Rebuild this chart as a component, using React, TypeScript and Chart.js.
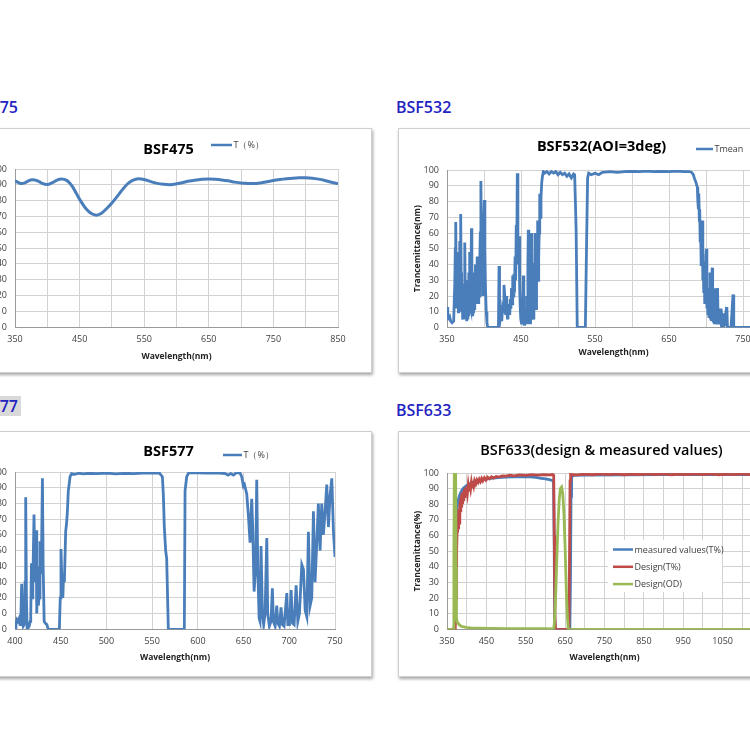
import React, { useEffect, useRef } from 'react';
import { Chart, registerables } from 'chart.js';

Chart.register(...registerables);

const FONT = "'Open Sans', 'DejaVu Sans', sans-serif";
const BLUE = '#4a7ebb';
const RED = '#be4b48';
const GREEN = '#98b954';

// ---------- BSF475 ----------
const bsf475Wl = [350, 355, 360, 365, 370, 377, 385, 392, 400, 408, 415, 422, 430, 438, 445, 452, 460, 468, 476, 484, 492, 500, 508, 516, 524, 532, 541, 550, 560, 570, 580, 590, 600, 610, 620, 630, 640, 650, 660, 670, 680, 690, 700, 710, 720, 730, 740, 750, 760, 770, 780, 790, 800, 810, 820, 830, 840, 850];
const bsf475T = [92.5, 91.5, 90.8, 91.2, 92.4, 93.2, 92.5, 90.9, 90.2, 91.4, 93.0, 93.7, 92.8, 89.5, 84.5, 79.5, 74.8, 71.8, 70.8, 72.0, 75.0, 78.5, 82.5, 86.8, 90.5, 92.8, 93.9, 93.4, 92.0, 90.9, 90.3, 90.1, 90.6, 91.5, 92.4, 93.0, 93.5, 93.7, 93.5, 93.1, 92.5, 91.7, 91.1, 90.9, 90.8, 91.2, 91.9, 92.7, 93.3, 93.8, 94.2, 94.4, 94.4, 94.2, 93.6, 92.7, 91.6, 90.6];

// ---------- BSF532 ----------
const bsf532Wl = [
  350, 351, 352, 353.5, 355, 357, 359,
  360.5, 361.2, 361.8, 362.4, 363, 363.6, 364.2, 364.8, 365.4, 366, 366.6, 367.2, 367.8, 368.5, 369.1, 369.7, 370.3, 370.9, 371.5, 372.1, 372.7, 373.3, 374, 374.6, 375.2, 375.8, 376.4, 377, 377.6, 378.2, 378.8, 379.4, 380, 380.6, 381.2, 381.8, 382.4, 383, 383.6, 384.2, 384.8, 385.4, 386, 386.6, 387.2, 387.8, 388.4, 389, 389.6, 390.2, 390.8, 391.4, 392, 392.6, 393.2, 393.8, 394.4, 395, 395.8, 396.5, 397.2, 397.8, 398.4, 399, 399.8, 400.5, 401.2, 402, 403, 404, 405,
  419.5, 420.3, 421, 422, 423, 424, 425, 426, 427, 428.4, 429.2, 430, 430.8, 431.6, 432.4, 433.2, 434, 434.8, 435.6, 436.4, 437.2, 438, 438.8, 439.6, 440.4, 441.2, 442, 442.8, 443.6, 444.3, 445, 445.8, 446.6, 447.4, 448.2, 449, 449.6,
  450.2, 450.8, 451.4, 452, 452.6, 453.2, 453.8, 454.4, 455, 455.6, 456.2, 456.8, 457.4, 458, 458.6, 459.3, 459.9, 460.5, 461.1, 461.7, 462.3, 462.9, 463.6, 464.3, 465, 465.6, 466.2, 466.8, 467.4, 468.1, 468.9, 469.6, 470.3, 471, 471.7, 472.5, 473.2, 473.9, 474.6, 475.3, 476, 477, 478, 479, 480.2,
  482, 485, 488, 491, 494, 497, 500, 503, 506, 509, 512, 515, 518, 521, 522.5, 523.5, 524.5, 526, 537, 538.5, 540, 541.5, 545, 550, 555, 560, 570, 580, 590, 600, 610, 620, 630, 640, 650, 660, 670, 678,
  680.6, 682.9, 684.2, 686.5, 688.3, 689, 689.6, 690.3, 691, 691.5, 692.1, 692.8, 693.5, 694.2, 695, 695.7, 696.4, 697, 697.7, 698.3, 699, 699.8, 700.5, 701.2, 701.9, 702.6, 703.3, 704, 704.7, 705.4, 706.1, 706.8, 707.6, 708.3, 709, 709.7, 710.4, 711.2, 712, 712.7, 713.4, 714.1, 714.8, 715.6, 716.3, 717, 717.8, 718.5, 719.3, 720.1, 720.9, 722, 723, 724, 725, 726, 727, 728.2, 729, 731, 733.8, 736.5, 737.5, 740, 760, 780, 800,
];
const bsf532T = [
  13, 8, 6, 7, 4, 3, 4,
  28, 50, 67, 30, 12, 40, 18, 48, 10, 30, 15, 55, 30, 72, 35, 10, 25, 5, 20, 6, 28, 12, 54, 25, 6, 18, 4, 22, 6, 30, 8, 35, 10, 48, 14, 40, 12, 63, 20, 8, 30, 10, 35, 12, 28, 14, 40, 15, 32, 18, 45, 16, 30, 15, 35, 20, 45, 60, 93, 50, 30, 45, 20, 55, 70, 81, 50, 25, 10, 3, 0,
  0, 39, 12, 5, 8, 4, 12, 10, 27, 18, 8, 20, 12, 6, 15, 9, 14, 8, 18, 12, 25, 15, 33, 20, 34, 22, 45, 30, 65, 48, 98, 55, 40, 58, 25, 12, 6,
  4, 2, 8, 3, 15, 33, 6, 2, 8, 3, 12, 4, 20, 5, 3, 40, 62, 15, 4, 10, 3, 25, 45, 60, 18, 5, 12, 6, 22, 40, 60, 25, 12, 35, 50, 68, 30, 45, 60, 85, 70, 82, 92, 96, 99,
  98, 99, 97.5, 99, 98, 99, 97, 98.5, 97, 98, 96, 97.5, 95, 97.5, 97, 80, 62, 0, 0, 50, 95, 98, 97, 98, 97, 98.5, 99, 98.5, 99, 99.2, 99, 99.3, 99, 99.2, 99, 99.3, 99, 99,
  98.5, 97, 95, 92, 89, 80, 76, 85, 68, 75, 55, 60, 40, 45, 68, 30, 35, 22, 42, 15, 20, 45, 50, 12, 18, 8, 25, 6, 15, 35, 6, 5, 20, 38, 10, 4, 12, 3, 25, 8, 3, 10, 2, 25, 6, 2, 8, 2, 12, 3, 1, 5, 1, 9, 2, 6, 1, 13, 0, 0, 0, 21, 0, 0, 0, 0, 0,
];

// ---------- BSF577 ----------
const bsf577Wl = [400, 401, 402, 403, 404.5, 405.5, 406.5, 407.3, 408.2, 409, 410, 411, 411.7, 412.5, 413.2, 414.5, 415.5, 416.5, 417.2, 418, 418.8, 419.5, 420.8, 421.9, 423, 423.8, 424.7, 425.5, 426.3, 427.3, 428.2, 429, 430, 430.8, 431.9, 433, 434.8, 436.4, 448.5, 449.5, 450.3, 451.3, 452.3, 453.2, 454, 455.4, 456.5, 457.3, 458.3, 459.2, 460.2, 462, 465, 470, 475, 480, 490, 500, 510, 520, 530, 540, 550, 558, 561.2, 562.3, 563.3, 564.8, 565.9, 567.7, 585.2, 586, 587.8, 590, 600, 610, 620, 630, 633, 636, 639, 642, 646, 648, 649.8, 651, 653.5, 655.3, 657.1, 658.9, 660, 661.5, 663.3, 664.4, 665.5, 667, 668, 669.1, 670.6, 672, 673.5, 675.4, 676.4, 678.2, 680, 681.5, 682.6, 684.5, 686.3, 687.4, 689.2, 691, 692.5, 694.3, 697.3, 698.4, 700.2, 702, 703.5, 705.3, 707.5, 709.3, 711.1, 713.7, 715.5, 717.4, 719.2, 720.9, 722.8, 724.6, 726.4, 728.2, 730.1, 731.8, 733.7, 735.5, 737.3, 739.2, 741, 742.8, 744.6, 746.5, 748.3, 750];
const bsf577T = [1, 4, 6, 5, 7, 3, 10, 29, 5, 2, 3, 30, 84, 20, 1, 1, 2, 5, 8, 42, 20, 30, 73, 30, 63, 10, 40, 15, 20, 56, 35, 48, 96, 40, 5, 4, 3, 0, 0, 20, 51, 30, 20, 35, 30, 62, 68, 75, 88, 92, 97, 99, 98.5, 99.2, 98.8, 99.2, 99, 99.3, 98.8, 99.2, 99, 99.3, 99.5, 99.3, 97, 85, 65, 50, 45, 0, 0, 88, 97, 99.5, 99.5, 99.3, 99.5, 99, 98, 99, 98, 99.5, 99.5, 97, 91, 92, 86, 72, 55, 83, 65, 24, 40, 95, 40, 7, 5, 53, 10, 3, 10, 58, 10, 2, 5, 26, 5, 2, 15, 4, 2, 14, 3, 2, 23, 3, 3, 25, 4, 3, 28, 5, 10, 41, 38, 12, 8, 62, 15, 20, 75, 30, 55, 80, 50, 80, 60, 75, 92, 65, 85, 96, 62, 46];

// ---------- BSF633 ----------
const bsf633MeasWl = [350, 367, 369, 370.5, 372, 373.5, 375, 377, 379, 381, 384, 388, 392, 397, 403, 410, 420, 432, 445, 460, 480, 500, 520, 540, 560, 575, 590, 600, 610, 617, 620.5, 622, 623.5, 625, 662, 663.5, 665, 666.5, 670, 700, 800, 900, 1000, 1150];
const bsf633MeasT = [0, 0, 3, 25, 55, 70, 77, 81, 83, 85, 87, 89, 90.5, 91.5, 92.5, 93.5, 94.5, 95.3, 96, 96.6, 97, 97.4, 97.6, 97.7, 97.6, 97.2, 96.6, 96.2, 95.7, 95.2, 94.5, 60, 8, 0, 0, 30, 85, 97, 98.5, 98.7, 98.8, 98.9, 99, 99];
const bsf633DesWl = [350, 371, 373, 374.5, 376, 377, 378, 379, 380, 381, 382, 383, 384, 385, 386, 387, 388, 389.5, 391, 392.5, 394, 395.5, 397, 398.5, 400, 402, 404, 406, 408, 410, 412, 414, 416, 418, 420, 423, 426, 429, 432, 435, 438, 441, 445, 449, 453, 458, 463, 468, 475, 482, 490, 500, 510, 520, 535, 550, 565, 580, 595, 610, 618, 621, 622.5, 624, 625.5, 659.5, 661, 662.5, 664, 680, 700, 720, 740, 760, 780, 800, 820, 840, 860, 880, 900, 920, 940, 960, 980, 1000, 1020, 1040, 1060, 1080, 1100, 1120, 1150];
const bsf633DesT = [0, 0, 20, 50, 66, 62, 72, 64, 77, 68, 80, 72, 83, 75, 85, 78, 87, 80, 88, 82, 89.5, 84, 90.5, 86, 91.5, 87.5, 92.5, 89, 93, 90, 94, 91, 94.5, 92, 95, 93, 95.5, 94, 96, 94.5, 96.5, 95, 97, 95.5, 97.3, 96.3, 97.6, 96.8, 97.8, 97.4, 98.2, 98, 98.6, 98.2, 98.8, 98.5, 99, 98.7, 99, 98.8, 99, 98.5, 60, 10, 0, 0, 40, 95, 99, 98.8, 99.3, 98.9, 99.4, 99, 99.4, 98.9, 99.3, 99, 99.5, 99, 99.4, 98.9, 99.3, 99, 99.4, 99, 99.4, 98.9, 99.3, 99, 99.4, 99, 99.2];
const bsf633OdWl = [350, 366.5, 367.5, 368.5, 372, 373, 374, 375.5, 378, 381, 385, 390, 398, 410, 430, 460, 500, 560, 600, 619, 621, 623, 626, 629, 632, 635, 638, 641, 644, 647, 650, 653, 656, 658, 1150];
const bsf633Od = [0, 0, 50, 100, 100, 40, 8, 5, 4, 3, 2.2, 1.7, 1.3, 1, 0.8, 0.6, 0.5, 0.5, 0.4, 0.3, 0, 5, 22, 45, 68, 83, 90, 91, 87, 74, 52, 25, 7, 0, 0];

const pts = (xs: number[], ys: number[]) => xs.map((x, i) => ({ x, y: ys[i] }));

type LegendItem = { label: string; color: string };
type Decor = {
  title: string;
  titleY: number;
  titleWeight: string;
  legend: LegendItem[];
  legendX: number;
  legendY: number;
  legendDy: number;
  legendLine: number;
  legendBox?: { x: number; y: number; w: number; h: number };
};

function makeDecor(d: Decor) {
  return {
    id: 'decor',
    afterDraw(chart: any) {
      const ctx: CanvasRenderingContext2D = chart.ctx;
      ctx.save();
      ctx.fillStyle = '#000';
      ctx.font = `${d.titleWeight} 14.5px ${FONT}`;
      ctx.textAlign = 'center';
      ctx.textBaseline = 'alphabetic';
      ctx.fillText(d.title, chart.width / 2, d.titleY);
      if (d.legendBox) {
        ctx.fillStyle = '#ffffff';
        ctx.fillRect(d.legendBox.x, d.legendBox.y, d.legendBox.w, d.legendBox.h);
      }
      ctx.font = `9px ${FONT}`;
      ctx.textAlign = 'left';
      ctx.textBaseline = 'middle';
      d.legend.forEach((it, i) => {
        const y = d.legendY + i * d.legendDy;
        ctx.strokeStyle = it.color;
        ctx.lineWidth = 2.5;
        ctx.beginPath();
        ctx.moveTo(d.legendX, y);
        ctx.lineTo(d.legendX + d.legendLine, y);
        ctx.stroke();
        ctx.fillStyle = '#404040';
        ctx.fillText(it.label, d.legendX + d.legendLine + 1.5, y + 0.5);
      });
      ctx.restore();
    },
  };
}

type Cfg = {
  w: number;
  h: number;
  area: { left: number; top: number; right: number; bottom: number };
  xMin: number;
  xMax: number;
  labelStep: number;
  xTitlePad: number;
  yTitle?: string;
  datasets: any[];
  decor: Decor;
};

function buildOptions(c: Cfg): any {
  const tickFont = { family: FONT, size: 9 };
  const titleFont = { family: FONT, size: 8.5, weight: 'bold' };
  return {
    responsive: false,
    maintainAspectRatio: false,
    animation: false,
    layout: { padding: { top: c.area.top, right: c.w - c.area.right, left: 0, bottom: 0 } },
    plugins: { legend: { display: false }, title: { display: false }, tooltip: { enabled: false } },
    elements: { point: { radius: 0 } },
    scales: {
      x: {
        type: 'linear',
        min: c.xMin,
        max: c.xMax,
        afterFit: (s: any) => {
          s.height = c.h - c.area.bottom;
        },
        ticks: {
          stepSize: 50,
          autoSkip: false,
          maxRotation: 0,
          padding: 7,
          font: tickFont,
          color: '#404040',
          callback: (v: any) => ((Number(v) - c.xMin) % c.labelStep === 0 ? String(v) : ''),
        },
        grid: { color: '#d2d2d2', drawTicks: false, lineWidth: 1 },
        border: { color: '#9a9a9a' },
        title: {
          display: true,
          text: 'Wavelength(nm)',
          font: titleFont,
          color: '#222',
          padding: { top: 0, bottom: c.xTitlePad },
        },
      },
      y: {
        type: 'linear',
        min: 0,
        max: 100,
        afterFit: (s: any) => {
          s.width = c.area.left;
        },
        ticks: { stepSize: 10, padding: 8, font: tickFont, color: '#404040' },
        grid: { color: '#d2d2d2', drawTicks: false, lineWidth: 1 },
        border: { color: '#9a9a9a' },
        title: c.yTitle
          ? { display: true, text: c.yTitle, font: titleFont, color: '#222', padding: { top: 13, bottom: 0 } }
          : { display: false },
      },
    },
  };
}

function ChartBox({ cfg, left, top }: { cfg: Cfg; left: number; top: number }) {
  const ref = useRef<HTMLCanvasElement>(null);
  useEffect(() => {
    if (!ref.current) return;
    const chart = new Chart(ref.current, {
      type: 'line',
      data: { datasets: cfg.datasets },
      options: buildOptions(cfg),
      plugins: [makeDecor(cfg.decor)],
    } as any);
    return () => chart.destroy();
  }, [cfg]);
  return (
    <div
      style={{
        position: 'absolute',
        left,
        top,
        width: cfg.w + 2,
        height: cfg.h + 2,
        boxSizing: 'border-box',
        border: '1px solid #cfcfcf',
        boxShadow: '1px 2px 3px rgba(0,0,0,0.35)',
        background: '#fff',
      }}
    >
      <canvas ref={ref} width={cfg.w} height={cfg.h} style={{ display: 'block', width: cfg.w, height: cfg.h }} />
    </div>
  );
}

const line = (label: string, xs: number[], ys: number[], color: string, width: number, tension: number, order = 0) => ({
  label,
  data: pts(xs, ys),
  borderColor: color,
  backgroundColor: color,
  borderWidth: width,
  pointRadius: 0,
  fill: false,
  tension,
  cubicInterpolationMode: tension > 0 ? 'monotone' : 'default',
  order,
});

const cfg475: Cfg = {
  w: 405,
  h: 243,
  area: { left: 49, top: 40, right: 372, bottom: 198 },
  xMin: 350,
  xMax: 850,
  labelStep: 100,
  xTitlePad: 10.6,
  datasets: [line('T（%）', bsf475Wl, bsf475T, BLUE, 3, 0.4)],
  decor: { title: 'BSF475', titleY: 24.5, titleWeight: 'bold', legend: [{ label: 'T（%）', color: BLUE }], legendX: 245, legendY: 16, legendDy: 0, legendLine: 21 },
};

const cfg532: Cfg = {
  w: 405,
  h: 243,
  area: { left: 48, top: 41, right: 381, bottom: 198.5 },
  xMin: 350,
  xMax: 800,
  labelStep: 100,
  xTitlePad: 14,
  yTitle: 'Trancemittance(nm)',
  datasets: [line('Tmean', bsf532Wl, bsf532T, BLUE, 2.8, 0)],
  decor: { title: 'BSF532(AOI=3deg)', titleY: 21.5, titleWeight: 'bold', legend: [{ label: 'Tmean', color: BLUE }], legendX: 297, legendY: 20, legendDy: 0, legendLine: 17 },
};

const cfg577: Cfg = {
  w: 405,
  h: 244,
  area: { left: 49, top: 40, right: 369, bottom: 197.3 },
  xMin: 400,
  xMax: 750,
  labelStep: 50,
  xTitlePad: 13,
  datasets: [line('T（%）', bsf577Wl, bsf577T, BLUE, 2.8, 0)],
  decor: { title: 'BSF577', titleY: 24, titleWeight: 'bold', legend: [{ label: 'T（%）', color: BLUE }], legendX: 257, legendY: 23, legendDy: 0, legendLine: 19 },
};

const cfg633: Cfg = {
  w: 405,
  h: 244,
  area: { left: 48, top: 41, right: 363, bottom: 197.4 },
  xMin: 350,
  xMax: 1150,
  labelStep: 100,
  xTitlePad: 13,
  yTitle: 'Trancemittance(%)',
  datasets: [
    line('measured values(T%)', bsf633MeasWl, bsf633MeasT, BLUE, 2.8, 0, 3),
    line('Design(T%)', bsf633DesWl, bsf633DesT, RED, 2.8, 0, 2),
    line('Design(OD)', bsf633OdWl, bsf633Od, GREEN, 2.8, 0, 1),
  ],
  decor: {
    title: 'BSF633(design & measured values)',
    titleY: 22.5,
    titleWeight: '600',
    legend: [
      { label: 'measured values(T%)', color: BLUE },
      { label: 'Design(T%)', color: RED },
      { label: 'Design(OD)', color: GREEN },
    ],
    legendX: 214,
    legendY: 117.5,
    legendDy: 17.3,
    legendLine: 20,
    legendBox: { x: 209, y: 108, w: 114, h: 52 },
  },
};

const headStyle: React.CSSProperties = {
  position: 'absolute',
  fontFamily: FONT,
  fontSize: 16,
  fontWeight: 600,
  lineHeight: '20px',
  color: '#2323c0',
  whiteSpace: 'nowrap',
};

export default function App() {
  return (
    <div style={{ position: 'fixed', left: 0, top: 0, width: 750, height: 750, overflow: 'hidden', background: '#fff' }}>
      <div style={{ ...headStyle, left: -100, width: 118, top: 97, textAlign: 'right' }}>BSF475</div>
      <div style={{ ...headStyle, left: 396, top: 97 }}>BSF532</div>
      <div
        style={{
          ...headStyle,
          left: -100,
          width: 121,
          top: 396,
          height: 20,
          textAlign: 'right',
          paddingRight: 3,
          boxSizing: 'border-box',
          background: '#d9d9d9',
        }}
      >
        BSF577
      </div>
      <div style={{ ...headStyle, left: 396, top: 399.5 }}>BSF633</div>
      <ChartBox cfg={cfg475} left={-35} top={128} />
      <ChartBox cfg={cfg532} left={398} top={128} />
      <ChartBox cfg={cfg577} left={-35} top={431} />
      <ChartBox cfg={cfg633} left={398} top={431} />
    </div>
  );
}
